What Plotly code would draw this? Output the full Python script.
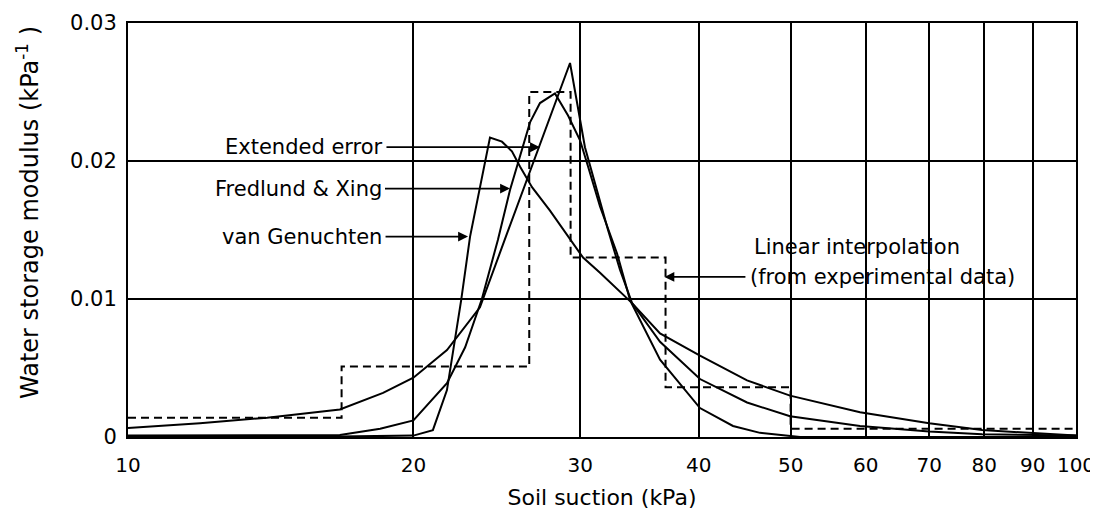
import math
import plotly.graph_objects as go

# ---------------- data ----------------
# Soil suction (kPa) and water storage modulus (1/kPa)
suction_vg = [10, 15.2, 20.0, 20.97, 21.7, 22.46, 22.95, 24.09, 24.8, 25.41, 25.91, 26.68,
              27.87, 29.26, 30.2, 31.47, 34.02, 36.41, 40.12, 44.98, 49.93, 59.18, 70.0, 79.6, 100]
modulus_vg = [0.0, 0.0, 0.0001, 0.0005, 0.0034, 0.0099, 0.0145, 0.0217, 0.0214, 0.0207, 0.0196, 0.0181,
              0.0164, 0.0143, 0.0130, 0.0119, 0.0097, 0.0075, 0.0059, 0.0041, 0.0030, 0.0018, 0.0010, 0.0005, 0.0001]

suction_fx = [10, 13.45, 16.73, 18.45, 20.0, 21.7, 22.68, 23.62, 24.56, 25.29, 25.91, 26.55, 27.2,
              28.21, 29.12, 29.98, 30.57, 31.47, 32.8, 33.86, 36.41, 40.12, 43.47, 46.42, 51.16, 100]
modulus_fx = [0.0001, 0.0001, 0.00015, 0.0006, 0.0012, 0.0039, 0.0065, 0.0100, 0.0143, 0.0179, 0.0204, 0.0228, 0.0242,
              0.0249, 0.0233, 0.0215, 0.0196, 0.0167, 0.0133, 0.0099, 0.0056, 0.0021, 0.0008, 0.0003, 0.0, 0.0]

suction_ee = [10, 11.91, 14.02, 16.73, 18.58, 20.0, 21.7, 23.51, 24.97, 29.26, 30.34, 31.09, 32.09,
              33.04, 34.02, 36.41, 40.12, 44.98, 49.93, 59.18, 70.0, 79.6, 100]
modulus_ee = [0.00065, 0.0010, 0.0014, 0.0020, 0.0032, 0.0043, 0.0063, 0.0094, 0.0143, 0.0271, 0.0210, 0.0183, 0.0150,
              0.0121, 0.0097, 0.0069, 0.0042, 0.0025, 0.0015, 0.0008, 0.0004, 0.0002, 0.0001]

suction_lin = [10, 16.8, 26.5, 29.3, 36.9, 50.0, 100]
modulus_lin = [0.0014, 0.0051, 0.0250, 0.0130, 0.0036, 0.0006, 0.0006]

x_ticks = [10, 20, 30, 40, 50, 60, 70, 80, 90, 100]
x_tick_labels = ["10", "20", "30", "40", "50", "60", "70", "80", "90", "100"]
y_ticks = [0, 0.01, 0.02, 0.03]
y_tick_labels = ["0", "0.01", "0.02", "0.03"]

FONT = "DejaVu Sans"
BLACK = "#000000"

fig = go.Figure()
for xs, ys, name in [(suction_ee, modulus_ee, "Extended error"),
                     (suction_fx, modulus_fx, "Fredlund & Xing"),
                     (suction_vg, modulus_vg, "van Genuchten")]:
    fig.add_trace(go.Scatter(x=xs, y=ys, mode="lines", name=name,
                             line=dict(color=BLACK, width=2)))
fig.add_trace(go.Scatter(x=suction_lin, y=modulus_lin, mode="lines", name="Linear interpolation",
                         line=dict(color=BLACK, width=2, dash="8px,5px", shape="hv")))

L = math.log10
afont = dict(family=FONT, size=21, color=BLACK)
ann = []
# (label, arrow-tip suction, arrow y, pixel offset from tip to text centre)
labels_left = [("Extended error", 27.2, 0.0210, -236),
               ("Fredlund & Xing", 25.29, 0.0180, -212),
               ("van Genuchten", 22.84, 0.01452, -166)]
for txt, tipx, ty, off in labels_left:
    ann.append(dict(x=L(tipx), y=ty, xref="x", yref="y", text=txt, showarrow=True,
                    ax=off, ay=0, axref="pixel", ayref="pixel",
                    arrowhead=2, arrowsize=1.1, arrowwidth=1.8, arrowcolor=BLACK,
                    standoff=0, borderpad=3, font=afont))
ann.append(dict(x=L(45.5), y=0.01375, xref="x", yref="y",
                text="Linear interpolation", showarrow=False,
                xanchor="left", yanchor="middle", align="left", font=afont))
ann.append(dict(x=L(36.8), y=0.01160, xref="x", yref="y",
                text="(from experimental data)", showarrow=True,
                ax=218, ay=0, axref="pixel", ayref="pixel",
                arrowhead=2, arrowsize=1.1, arrowwidth=1.8, arrowcolor=BLACK,
                standoff=0, borderpad=4, font=afont))
# y-axis title (placed as rotated text so it sits where the original does)
ann.append(dict(x=-0.1055, y=0.5435, xref="paper", yref="paper",
                text="Water storage modulus (kPa<sup>-1</sup> )", textangle=-90,
                showarrow=False, xanchor="center", yanchor="middle",
                font=dict(family=FONT, size=24, color=BLACK)))

# the page body adds an 8 px offset, so the figure is 8 px smaller and the
# left/top margins are 8 px narrower to keep the plot area where it belongs
fig.update_layout(
    width=1090, height=508,
    margin=dict(l=120, r=22, t=15, b=79, autoexpand=False),
    paper_bgcolor="white", plot_bgcolor="white",
    showlegend=False,
    font=dict(family=FONT, color=BLACK),
    annotations=ann,
    shapes=[dict(type="rect", xref="paper", yref="paper", x0=0.616, x1=0.949, y0=0.343, y1=0.502,
                 fillcolor="white", line=dict(width=0), layer="between")],
)
fig.update_xaxes(type="log", range=[1, 2], tickvals=x_ticks, ticktext=x_tick_labels,
                 showgrid=True, gridcolor=BLACK, gridwidth=1.6, automargin=False,
                 showline=True, linecolor=BLACK, linewidth=2, mirror=True,
                 ticks="", ticklabelstandoff=9, zeroline=False,
                 tickfont=dict(family=FONT, size=20, color=BLACK),
                 title=dict(text="Soil suction (kPa)", font=dict(family=FONT, size=22, color=BLACK), standoff=14))
fig.update_yaxes(range=[0, 0.03], tickvals=y_ticks, ticktext=y_tick_labels,
                 showgrid=True, gridcolor=BLACK, gridwidth=1.6, automargin=False,
                 showline=True, linecolor=BLACK, linewidth=2, mirror=True,
                 ticks="", ticklabelstandoff=5, zeroline=False,
                 tickfont=dict(family=FONT, size=21, color=BLACK))

fig.write_html("out.html")
